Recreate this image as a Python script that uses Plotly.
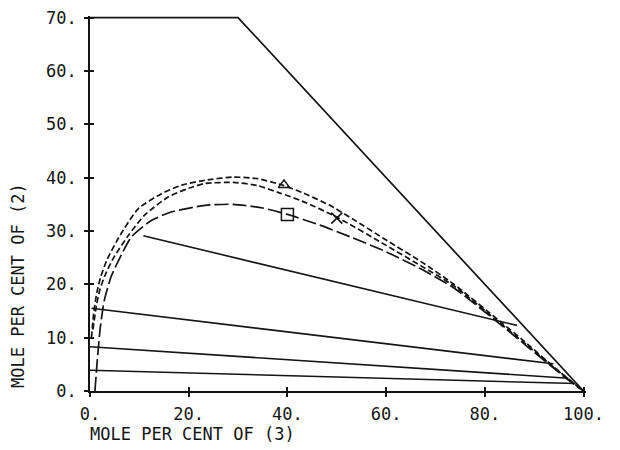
import plotly.graph_objects as go

# ---- data ----
boundary_x = [0, 30, 100]
boundary_y = [70, 70, 0]

# binodal curve A (upper, short dash)
curve_a_x = [0.3, 0.8, 1.4, 2.2, 3.5, 6.1, 9.8, 14.5, 18.6, 23.3, 29, 34, 39, 43, 48.6, 54, 60, 67, 73.6, 83, 88, 93, 97, 100]
curve_a_y = [10, 15, 18.5, 21.5, 24.7, 29.2, 34.2, 37, 38.6, 39.5, 40.1, 39.8, 38.6, 37.2, 34.8, 31.8, 28.3, 24.3, 20.1, 13.1, 9.3, 5.3, 2.2, 0]

# binodal curve B (middle, short dash)
curve_b_x = [0.6, 1.3, 2.0, 3.1, 4.8, 7.8, 11.1, 15.9, 20, 23.3, 29, 34, 38.5, 43, 50, 60, 67, 73.6, 83, 88, 93, 97, 100]
curve_b_y = [11.5, 16, 19, 21.8, 25, 29.2, 33, 36.4, 38, 38.9, 39.1, 38.5, 37.1, 35.6, 32.6, 27.3, 23.5, 19.8, 12.8, 9, 5.2, 2.1, 0]

# binodal curve C (lower, long dash)
curve_c_x = [1.0, 1.5, 2.1, 2.9, 4.3, 5.8, 8.4, 12.5, 16.6, 23.3, 29, 35, 40, 46.6, 53, 60, 67, 73.6, 83, 88, 93, 97, 100]
curve_c_y = [0, 6, 12, 17, 21.5, 24.5, 28.9, 32, 33.6, 34.8, 35, 34.3, 33.1, 31.1, 28.8, 26.1, 22.9, 19.4, 12.6, 8.8, 5.0, 2, 0]

# tie lines
tie_left_x = [10.8, 0.3, 0.0, 0.0]
tie_left_y = [29.1, 15.5, 8.3, 3.9]
tie_right_x = [86.5, 93.9, 96.9, 98.3]
tie_right_y = [12.3, 5.1, 2.4, 1.4]

# plait-point markers
mark_a = (39.3, 38.6)
mark_b = (50.0, 32.4)
mark_c = (40.0, 33.1)

x_ticks = [0, 20, 40, 60, 80, 100]
x_tick_labels = ["0.", "20.", "40.", "60.", "80.", "100."]
y_ticks = [0, 10, 20, 30, 40, 50, 60, 70]
y_tick_labels = ["0.", "10.", "20.", "30.", "40.", "50.", "60.", "70."]

x_title = "MOLE PER CENT OF (3)"
y_title = "MOLE PER CENT OF (2)"

INK = "#141414"
FONT = "DejaVu Sans Mono"

fig = go.Figure()

fig.add_trace(go.Scatter(x=boundary_x, y=boundary_y, mode="lines",
                         line=dict(color=INK, width=1.7), showlegend=False))

for i in range(len(tie_left_x)):
    fig.add_trace(go.Scatter(x=[tie_left_x[i], tie_right_x[i]], y=[tie_left_y[i], tie_right_y[i]],
                             mode="lines", line=dict(color=INK, width=1.6), showlegend=False))

fig.add_trace(go.Scatter(x=curve_a_x, y=curve_a_y, mode="lines",
                         line=dict(color=INK, width=1.7, dash="6px,3px", shape="spline", smoothing=0.6),
                         showlegend=False))
fig.add_trace(go.Scatter(x=curve_b_x, y=curve_b_y, mode="lines",
                         line=dict(color=INK, width=1.7, dash="6px,3px", shape="spline", smoothing=0.6),
                         showlegend=False))
fig.add_trace(go.Scatter(x=curve_c_x, y=curve_c_y, mode="lines",
                         line=dict(color=INK, width=1.7, dash="14px,4px", shape="spline", smoothing=0.6),
                         showlegend=False))

fig.add_trace(go.Scatter(x=[mark_a[0]], y=[mark_a[1]], mode="markers",
                         marker=dict(symbol="triangle-up-open", size=10, color=INK, line=dict(width=1.5, color=INK)),
                         showlegend=False))
fig.add_trace(go.Scatter(x=[mark_b[0]], y=[mark_b[1]], mode="markers",
                         marker=dict(symbol="x-thin-open", size=11, color=INK, line=dict(width=1.6, color=INK)),
                         showlegend=False))
fig.add_trace(go.Scatter(x=[mark_c[0]], y=[mark_c[1]], mode="markers",
                         marker=dict(symbol="square-open", size=12, color=INK, line=dict(width=1.5, color=INK)),
                         showlegend=False))

# empty trace so the overlay axes (inner halves of the cross ticks) are drawn
fig.add_trace(go.Scatter(x=[None], y=[None], xaxis="x2", yaxis="y2", mode="lines", showlegend=False,
                         hoverinfo="skip"))

XR = [0, 100.5]
YR = [0, 70.3]

# the page body adds an 8px margin, so the figure is 8px smaller and margins compensate
fig.update_layout(
    width=612, height=442,
    margin=dict(l=82, r=34, t=8, b=59, autoexpand=False),
    paper_bgcolor="white", plot_bgcolor="white",
    font=dict(family=FONT, size=17, color=INK),
    xaxis=dict(range=XR, tickvals=x_ticks, ticktext=x_tick_labels, ticks="outside", ticklen=4,
               tickwidth=1.5, tickcolor=INK, showline=True, linewidth=1.7, linecolor=INK,
               showgrid=False, zeroline=False, ticklabelstandoff=3, ticklabeloverflow="allow",
               automargin=False, tickfont=dict(family=FONT, size=17, color=INK)),
    yaxis=dict(range=YR, tickvals=y_ticks, ticktext=y_tick_labels, ticks="outside", ticklen=4,
               tickwidth=1.5, tickcolor=INK, showline=True, linewidth=1.7, linecolor=INK,
               showgrid=False, zeroline=False, ticklabelstandoff=4, ticklabeloverflow="allow",
               automargin=False, tickfont=dict(family=FONT, size=17, color=INK)),
    xaxis2=dict(range=XR, overlaying="x", anchor="y", side="bottom", tickvals=x_ticks, ticks="inside",
                ticklen=4, tickwidth=1.5, tickcolor=INK, showticklabels=False, showline=False,
                showgrid=False, zeroline=False, automargin=False),
    yaxis2=dict(range=YR, overlaying="y", anchor="x", side="left", tickvals=y_ticks, ticks="inside",
                ticklen=4, tickwidth=1.5, tickcolor=INK, showticklabels=False, showline=False,
                showgrid=False, zeroline=False, automargin=False),
    annotations=[
        dict(text=x_title, xref="x", yref="y", x=0, y=0, xanchor="left", yanchor="middle",
             xshift=-2, yshift=-43, showarrow=False, font=dict(family=FONT, size=17, color=INK)),
        dict(text=y_title, xref="x", yref="y", x=0, y=0, xanchor="center", yanchor="middle",
             textangle=-90, xshift=-72, yshift=105, showarrow=False,
             font=dict(family=FONT, size=17, color=INK)),
    ],
)

fig.write_html("out.html")
